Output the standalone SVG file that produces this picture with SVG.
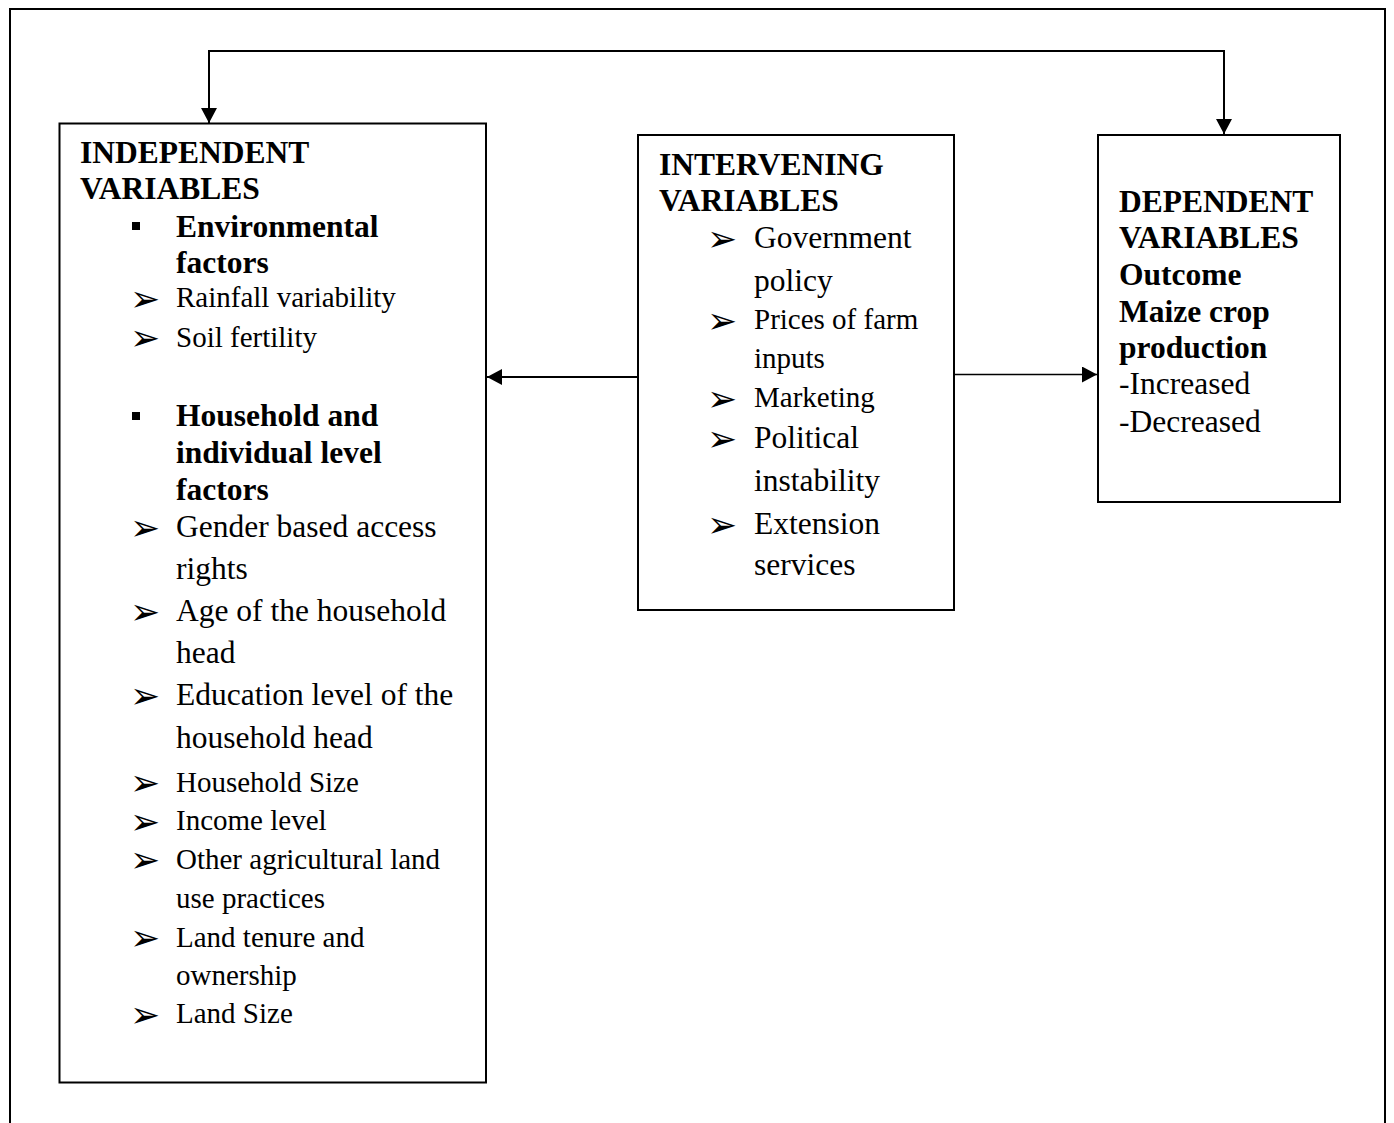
<svg xmlns="http://www.w3.org/2000/svg" width="1394" height="1123" viewBox="0 0 1394 1123">
<defs>
<style>
.box{fill:#fff;stroke:#000;stroke-width:2}
.ln{fill:none;stroke:#000;stroke-width:2}
.t{font-family:"Liberation Serif","Times New Roman",serif;fill:#000}
.b{font-weight:bold;font-size:31.5px}
.r{font-size:31.5px}
.s{font-size:29px}
.bul{font-family:"DejaVu Sans",sans-serif;font-size:36px;fill:#000}
</style>
<marker id="ah" viewBox="0 0 15 16" refX="15" refY="8" markerWidth="15" markerHeight="16" markerUnits="userSpaceOnUse" orient="auto-start-reverse">
<path d="M0,0 L15,8 L0,16 Z" fill="#000"/>
</marker>
</defs>
<rect width="1394" height="1123" fill="#fff"/>
<path class="ln" d="M10,1123 V9 H1385 V1123"/>

<g id="independent">
<rect class="box" x="59.5" y="123.5" width="426.5" height="959"/>
<text class="t b" x="80" y="163">INDEPENDENT</text>
<text class="t b" x="80" y="199">VARIABLES</text>
<rect x="132" y="222" width="8" height="8" fill="#000"/>
<text class="t b" x="176" y="236.5">Environmental</text>
<text class="t b" x="176" y="272.5">factors</text>
<text class="bul" x="130" y="311">➢</text>
<text class="t s" x="176" y="307">Rainfall variability</text>
<text class="bul" x="130" y="350">➢</text>
<text class="t s" x="176" y="346.5">Soil fertility</text>
<rect x="132" y="412" width="8" height="8" fill="#000"/>
<text class="t b" x="176" y="425.5">Household and</text>
<text class="t b" x="176" y="463">individual level</text>
<text class="t b" x="176" y="500">factors</text>
<text class="bul" x="130" y="540">➢</text>
<text class="t r" x="176" y="536.5">Gender based access</text>
<text class="t r" x="176" y="578.5">rights</text>
<text class="bul" x="130" y="624">➢</text>
<text class="t r" x="176" y="620.5">Age of the household</text>
<text class="t r" x="176" y="662.5">head</text>
<text class="bul" x="130" y="708">➢</text>
<text class="t r" x="176" y="705">Education level of the</text>
<text class="t r" x="176" y="748">household head</text>
<text class="bul" x="130" y="795">➢</text>
<text class="t s" x="176" y="791.5">Household Size</text>
<text class="bul" x="130" y="834">➢</text>
<text class="t s" x="176" y="830">Income level</text>
<text class="bul" x="130" y="872">➢</text>
<text class="t s" x="176" y="868.5">Other agricultural land</text>
<text class="t s" x="176" y="908">use practices</text>
<text class="bul" x="130" y="950">➢</text>
<text class="t s" x="176" y="946.5">Land tenure and</text>
<text class="t s" x="176" y="985">ownership</text>
<text class="bul" x="130" y="1027">➢</text>
<text class="t s" x="176" y="1023">Land Size</text>
</g>

<g id="intervening">
<rect class="box" x="638" y="135" width="316" height="475"/>
<text class="t b" x="659" y="175">INTERVENING</text>
<text class="t b" x="659" y="211">VARIABLES</text>
<text class="bul" x="707" y="251">➢</text>
<text class="t r" x="754" y="247.5">Government</text>
<text class="t r" x="754" y="290.5">policy</text>
<text class="bul" x="707" y="333">➢</text>
<text class="t s" x="754" y="329">Prices of farm</text>
<text class="t s" x="754" y="368">inputs</text>
<text class="bul" x="707" y="411">➢</text>
<text class="t s" x="754" y="407">Marketing</text>
<text class="bul" x="707" y="451">➢</text>
<text class="t r" x="754" y="448">Political</text>
<text class="t r" x="754" y="491">instability</text>
<text class="bul" x="707" y="537">➢</text>
<text class="t r" x="754" y="533.5">Extension</text>
<text class="t r" x="754" y="575">services</text>
</g>

<g id="dependent">
<rect class="box" x="1098" y="135" width="242" height="367"/>
<text class="t b" x="1119" y="211.5">DEPENDENT</text>
<text class="t b" x="1119" y="248">VARIABLES</text>
<text class="t b" x="1119" y="285">Outcome</text>
<text class="t b" x="1119" y="321.5">Maize crop</text>
<text class="t b" x="1119" y="358">production</text>
<text class="t r" x="1119" y="394">-Increased</text>
<text class="t r" x="1119" y="431.5">-Decreased</text>
</g>

<g id="connectors">
<path class="ln" d="M209,123 V51 H1224 V134" marker-start="url(#ah)" marker-end="url(#ah)"/>
<path class="ln" d="M637,377 H487" marker-end="url(#ah)"/>
<path d="M955,374.5 H1097" fill="none" stroke="#000" stroke-width="1.3" marker-end="url(#ah)"/>
</g>
</svg>
